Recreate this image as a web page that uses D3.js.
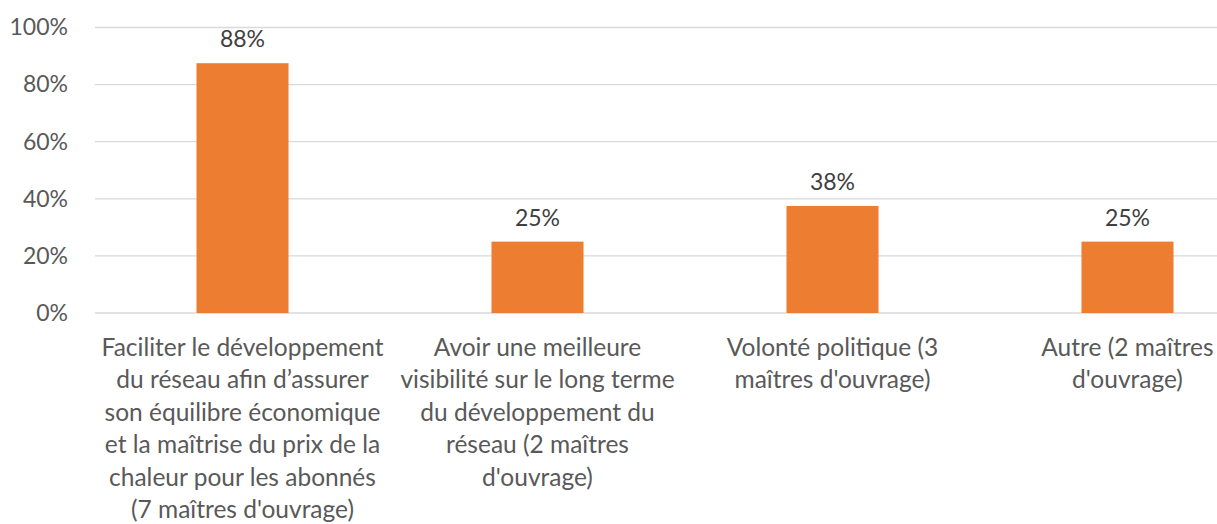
<!DOCTYPE html>
<html><head><meta charset="utf-8">
<script src="https://cdn.jsdelivr.net/npm/d3@7"></script>
<style>html,body{margin:0;padding:0;background:#fff;}svg{display:block;}</style>
</head><body>
<svg id="c" width="1217" height="524"></svg>
<script>
const categories = [
  ["Faciliter le développement","du réseau afin d’assurer","son équilibre économique","et la maîtrise du prix de la","chaleur pour les abonnés","(7 maîtres d'ouvrage)"],
  ["Avoir une meilleure","visibilité sur le long terme","du développement du","réseau (2 maîtres","d'ouvrage)"],
  ["Volonté politique (3","maîtres d'ouvrage)"],
  ["Autre (2 maîtres","d'ouvrage)"]
];
const values = [0.875, 0.25, 0.375, 0.25];
const valueLabels = ["88%", "25%", "38%", "25%"];
const yTicks = [0, 0.2, 0.4, 0.6, 0.8, 1.0];

const font = "Lato, 'Open Sans', sans-serif";
const svg = d3.select("#c");
const keys = categories.map((c,i)=>i);
const x = d3.scaleBand().domain(keys).range([95, 1275]).paddingInner(0.688).paddingOuter(0.344);
const y = d3.scaleLinear().domain([0,1]).range([313, 27.5]);

// gridlines
svg.append("g").selectAll("line").data(yTicks).join("line")
  .attr("x1",95).attr("x2",1275)
  .attr("y1",d=>y(d)).attr("y2",d=>y(d))
  .attr("stroke","#D9D9D9").attr("stroke-width",1.3);

// y axis labels
const yAxis = d3.axisLeft(y).tickValues(yTicks).tickFormat(d3.format(".0%")).tickSize(0).tickPadding(0);
const ya = svg.append("g").attr("transform","translate(68,0)").call(yAxis);
ya.select(".domain").remove();
ya.selectAll("text").attr("font-family",font).attr("font-size",23).attr("fill","#595959");

// bars
svg.append("g").selectAll("rect").data(values).join("rect")
  .attr("x",(d,i)=>x(i)).attr("width",x.bandwidth())
  .attr("y",d=>y(d)).attr("height",d=>y(0)-y(d))
  .attr("fill","#ED7D31");

// value labels
svg.append("g").selectAll("text").data(values).join("text")
  .attr("x",(d,i)=>x(i)+x.bandwidth()/2).attr("y",d=>y(d)-16)
  .attr("text-anchor","middle").attr("font-family",font).attr("font-size",23)
  .attr("fill","#404040").text((d,i)=>valueLabels[i]);

// category labels
const cg = svg.append("g").selectAll("text").data(categories).join("text")
  .attr("text-anchor","middle").attr("font-family",font).attr("font-size",24.5)
  .attr("fill","#595959");
cg.each(function(lines,i){
  const t = d3.select(this);
  lines.forEach((l,j)=>{
    t.append("tspan").attr("x",x(i)+x.bandwidth()/2).attr("y",356+j*32.4).text(l);
  });
});
</script>
</body></html>
